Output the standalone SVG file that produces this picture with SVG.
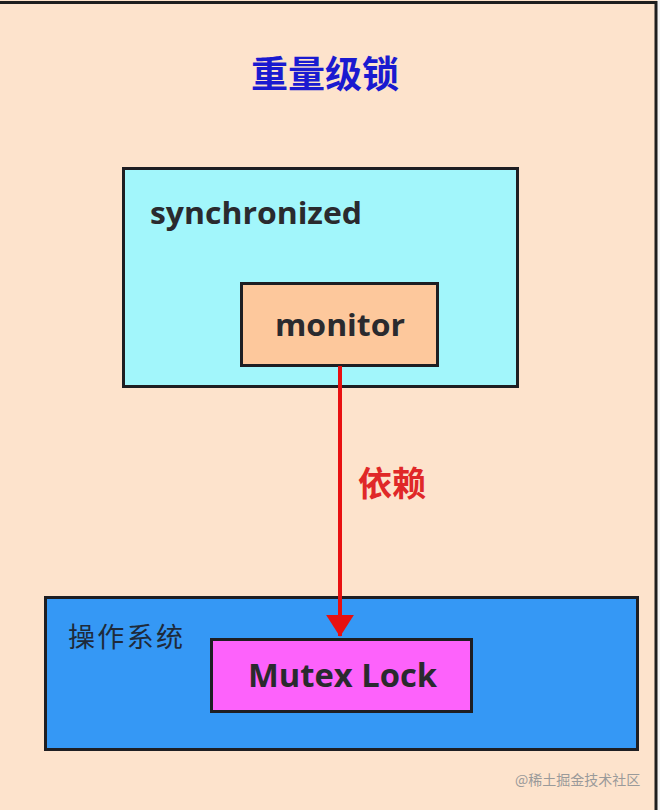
<svg xmlns="http://www.w3.org/2000/svg" width="660" height="810" viewBox="0 0 660 810">
<defs>
<style>
.box{stroke:#1e1e22;stroke-width:3}
.en{font-family:"Open Sans","Noto Sans","Liberation Sans",sans-serif;font-weight:bold;fill:#2a2a2e}
.cjk{font-family:"Noto Sans CJK SC","Noto Sans",sans-serif}
</style>
<marker id="ah" markerWidth="5.5" markerHeight="7" refX="5.3" refY="3.5" orient="auto" markerUnits="strokeWidth">
<path d="M0,0 L5.5,3.5 L0,7 Z" fill="#e81010"/>
</marker>
</defs>
<rect x="0" y="0" width="660" height="810" fill="#fde3cc"/>
<rect x="657" y="0" width="3" height="810" fill="#f4f4f4"/>
<line x1="0" y1="2.5" x2="657" y2="2.5" stroke="#1e1e1e" stroke-width="3"/>
<line x1="656" y1="1" x2="656" y2="810" stroke="#1e1e1e" stroke-width="3"/>
<g id="title">
<text x="325" y="88" text-anchor="middle" class="cjk" font-size="37" font-weight="bold" fill="#1a1ad0">重量级锁</text>
</g>
<g id="synchronized">
<rect class="box" x="123.5" y="168.5" width="394" height="218" fill="#a2f6fb"/>
<text x="150" y="224" class="en" font-size="30" textLength="212" lengthAdjust="spacingAndGlyphs">synchronized</text>
</g>
<g id="monitor">
<rect class="box" x="241.5" y="283.5" width="196" height="82" fill="#fdc89c"/>
<text x="275" y="336" class="en" font-size="30" textLength="130" lengthAdjust="spacingAndGlyphs">monitor</text>
</g>
<g id="os">
<rect class="box" x="45.5" y="597.5" width="592" height="152" fill="#3598f5"/>
<text x="68" y="647" class="cjk" font-size="27" textLength="115" fill="#1e2a3a">操作系统</text>
</g>
<g id="mutex">
<rect class="box" x="211.5" y="639.5" width="260" height="72" fill="#fd62fb"/>
<text x="248" y="687" class="en" font-size="32" font-weight="600" textLength="189" lengthAdjust="spacingAndGlyphs" fill="#3a1a3a">Mutex Lock</text>
</g>
<g id="connectors">
<line x1="340" y1="366" x2="340" y2="636" stroke="#e81010" stroke-width="4" marker-end="url(#ah)"/>
<text x="358" y="496" class="cjk" font-size="34" font-weight="bold" fill="#e02828">依赖</text>
</g>
<text x="515" y="785" class="cjk" font-size="14" fill="#9a9a9a">@稀土掘金技术社区</text>
</svg>
